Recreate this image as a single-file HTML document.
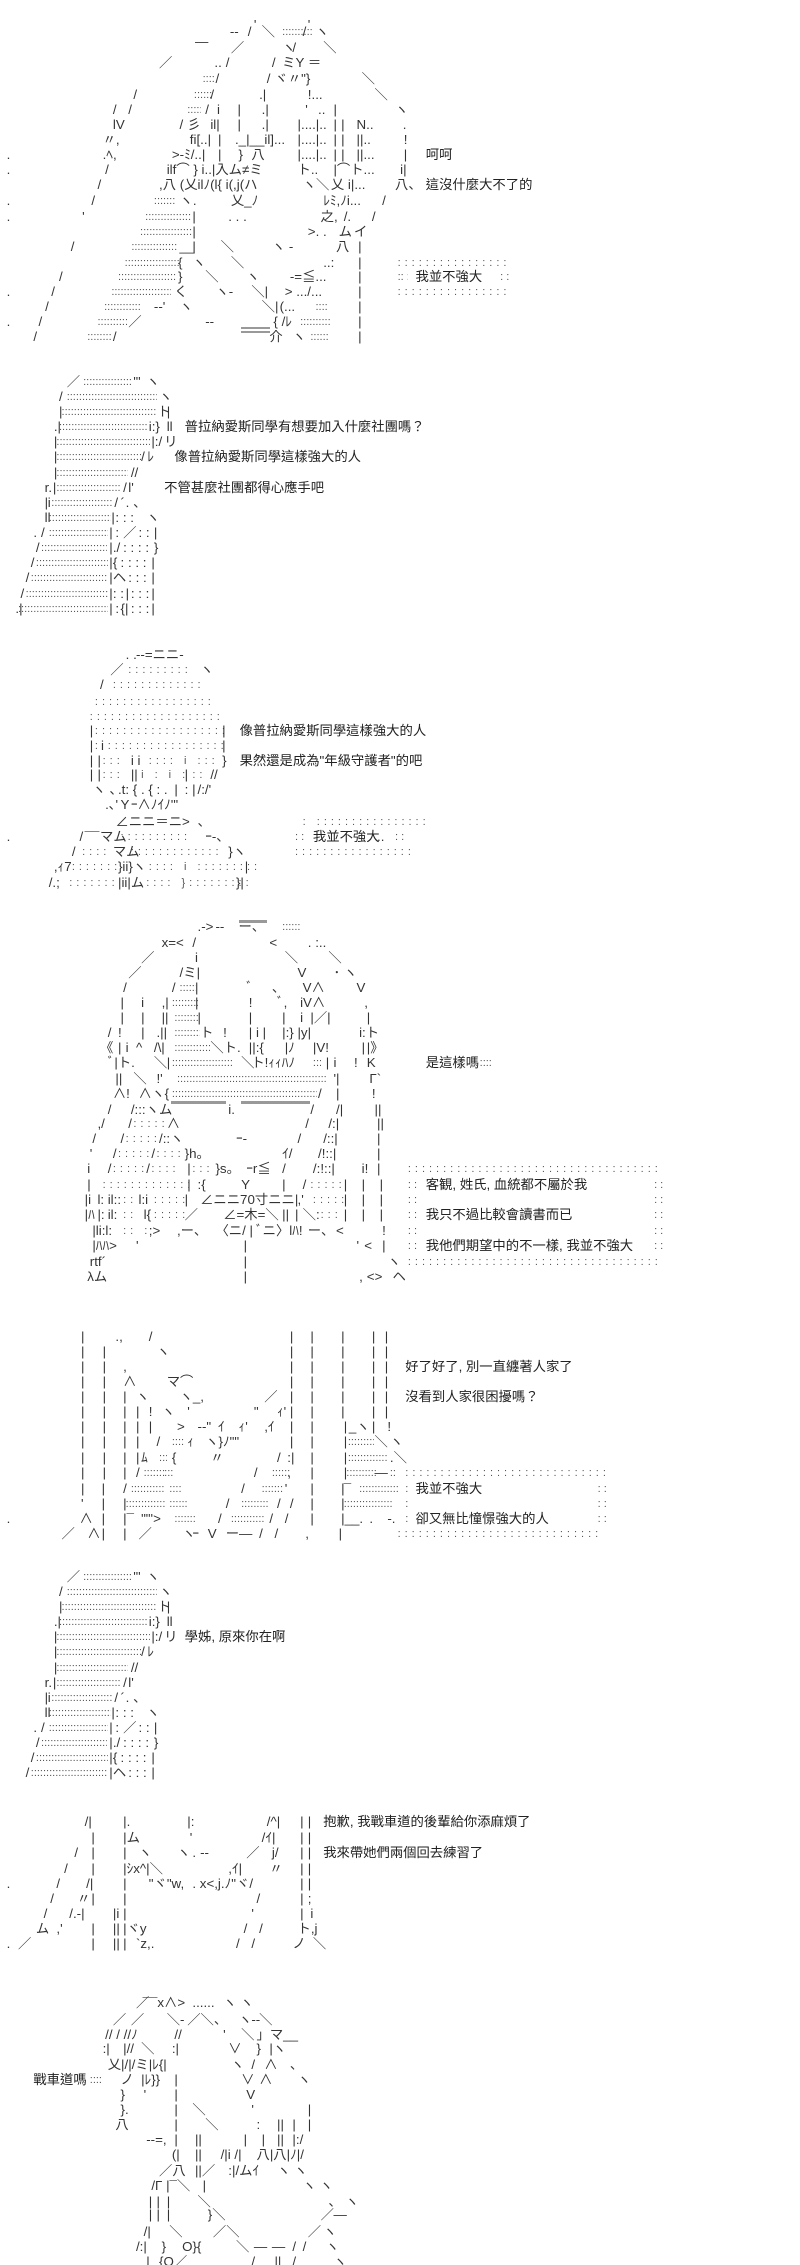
<!DOCTYPE html>
<html><head><meta charset="utf-8"><style>
html,body{margin:0;background:#fff}
#a{position:relative;width:800px;height:2265px;overflow:hidden}
.r{position:absolute;left:0;width:513px;height:16px}
.g{position:absolute;background:#999;height:2px}
i,u,b,em{position:absolute;top:0;font-style:normal;font-weight:normal;text-decoration:none;white-space:pre;line-height:16px;font-family:"Liberation Sans","Noto Sans CJK JP",sans-serif}
i{font-size:13.33px;color:#333}
u{font-size:11px;color:#555;overflow:hidden;height:16px}
b{font-size:11px;color:#555;letter-spacing:4px}
em{font-size:13.33px;color:#222;font-family:"Liberation Sans","Noto Sans CJK TC",sans-serif}
</style></head><body><div id="a">

<div class=g style=left:241px;top:327px;width:29px></div>
<div class=g style=left:241px;top:331px;width:29px></div>
<div class=g style=left:239px;top:920px;width:28px;height:3px></div>
<div class=g style=left:171px;top:1101px;width:55px;height:3px></div>
<div class=g style=left:241px;top:1101px;width:69px;height:3px></div>

<div class=r style=top:17px><i style=left:49.5%>'</i><i style=left:60%>'</i></div>
<div class=r style=top:24px><i style=left:44.8%>--</i><i style=left:48.3%>/</i><i style=left:51%>＼</i><u style=left:55%;width:30px>::::::::::</u><i style=left:59%>/</i><i style=left:61.5%>ヽ</i></div>
<div class=r style=top:34px><i style=left:38%>—</i></div>
<div class=r style=top:40px><i style=left:45%>／</i><i style=left:55%>ヽ</i><i style=left:57%>/</i><i style=left:63%>＼</i></div>
<div class=r style=top:55px><i style=left:31%>／</i><i style=left:41.8%>..</i><i style=left:44%>/</i><i style=left:53%>/</i><i style=left:55%>ミY ＝</i></div>
<div class=r style=top:71px><u style=left:39.5%;width:13px>::::</u><i style=left:42%>/</i><i style=left:52%>/</i><i style=left:53.5%>ヾ〃"}</i><i style=left:70.5%>＼</i></div>
<div class=r style=top:87px><i style=left:26%>/</i><u style=left:37.8%;width:18px>::::::</u><i style=left:41%>/</i><i style=left:50.5%>.|</i><i style=left:60%>!...</i><i style=left:73%>＼</i></div>
<div class=r style=top:102px><i style=left:22%>/</i><i style=left:25%>/</i><u style=left:36.5%;width:14px>:::::</u><i style=left:40%>/</i><i style=left:42.3%>i</i><i style=left:46.3%>|</i><i style=left:51%>.|</i><i style=left:59.5%>'</i><i style=left:62%>..</i><i style=left:65%>|</i><i style=left:77%>ヽ</i></div>
<div class=r style=top:117px><i style=left:22%>lV</i><i style=left:35%>/</i><i style=left:36.5%>彡</i><i style=left:41%>il|</i><i style=left:46.3%>|</i><i style=left:51%>.|</i><i style=left:58%>|....|..</i><i style=left:65%>|</i><i style=left:66.5%>|</i><i style=left:69.5%>N..</i><i style=left:78.5%>.</i></div>
<div class=r style=top:132px><i style=left:20%>〃,</i><i style=left:37%>fi[..|</i><i style=left:42.5%>|</i><i style=left:45.8%>._|__il]...</i><i style=left:58%>|....|..</i><i style=left:65%>|</i><i style=left:66.5%>|</i><i style=left:69.5%>||..</i><i style=left:78.7%>!</i></div>
<div class=r style=top:147px><i style=left:1.3%>.</i><i style=left:20%>.ﾍ,</i><i style=left:33.5%>&gt;-ﾐ/..|</i><i style=left:42.5%>|</i><i style=left:46.5%>}</i><i style=left:49%>八</i><i style=left:58%>|....|..</i><i style=left:65%>|</i><i style=left:66.5%>|</i><i style=left:69.5%>||...</i><i style=left:78.7%>|</i><em style=left:83%>呵呵</em></div>
<div class=r style=top:162px><i style=left:1.3%>.</i><i style=left:20.5%>/</i><i style=left:32.5%>ilf⌒ } i..|入ム≠ミ</i><i style=left:58%>ト..</i><i style=left:65%>|⌒ト...</i><i style=left:78%>i|</i></div>
<div class=r style=top:177px><i style=left:19%>/</i><i style=left:31%>,八 (乂ilﾉ(l{ i(,j(ハ</i><i style=left:59%>ヽ＼</i><i style=left:64.5%>乂 i|...</i><i style=left:77%>八、</i><em style=left:83%>這沒什麼大不了的</em></div>
<div class=r style=top:193px><i style=left:1.3%>.</i><i style=left:17.8%>/</i><u style=left:30%;width:21px>:::::::</u><i style=left:35%>ヽ.</i><i style=left:45%>乂_ﾉ</i><i style=left:63%>ﾚﾐ,ﾉi...</i><i style=left:74.5%>/</i></div>
<div class=r style=top:209px><i style=left:1.3%>.</i><i style=left:16%>'</i><u style=left:28.3%;width:47px>::::::::::::::::</u><i style=left:37.5%>|</i><i style=left:44.5%>. . .</i><i style=left:62.5%>之,</i><i style=left:67%>/.</i><i style=left:72.5%>/</i></div>
<div class=r style=top:224px><u style=left:27.3%;width:52px>:::::::::::::::::</u><i style=left:37.5%>|</i><i style=left:60%>&gt;. .</i><i style=left:66%>ム</i><i style=left:69%>イ</i></div>
<div class=r style=top:239px><i style=left:13.8%>/</i><u style=left:25.6%;width:48px>:::::::::::::::</u><i style=left:35%>__</i><i style=left:37.5%>|</i><i style=left:43%>＼</i><i style=left:53%>ヽ -</i><i style=left:65.5%>八</i><i style=left:69.8%>|</i></div>
<div class=r style=top:255px><u style=left:24.3%;width:55px>::::::::::::::::::</u><i style=left:34.7%>{</i><i style=left:37.5%>ヽ</i><i style=left:45%>＼</i><i style=left:63%>..:</i><i style=left:69.8%>|</i><b style=left:77.5%>::::::::::::::::</b></div>
<div class=r style=top:269px><i style=left:11.5%>/</i><u style=left:23%;width:58px>:::::::::::::::::::</u><i style=left:34.7%>}</i><i style=left:40%>＼</i><i style=left:48%>ヽ</i><i style=left:56.5%>-=≦...</i><i style=left:69.8%>|</i><u style=left:77.5%;width:10px>:: :</u><em style=left:81%>我並不強大</em><u style=left:97.5%;width:10px>: :</u></div>
<div class=r style=top:284px><i style=left:1.3%>.</i><i style=left:10%>/</i><u style=left:21.7%;width:60px>::::::::::::::::::::</u><i style=left:34%>く</i><i style=left:42%>ヽ-</i><i style=left:49%>＼|</i><i style=left:55.5%>&gt; .../...</i><i style=left:69.8%>|</i><b style=left:77.5%>::::::::::::::::</b></div>
<div class=r style=top:299px><i style=left:8.8%>/</i><u style=left:20.3%;width:38px>::::::::::::</u><i style=left:30%>--'</i><i style=left:35%>ヽ</i><i style=left:51%>＼|</i><i style=left:54.5%>(...</i><u style=left:61.5%;width:13px>::::</u><i style=left:69.8%>|</i></div>
<div class=r style=top:314px><i style=left:1.3%>.</i><i style=left:7.5%>/</i><u style=left:19%;width:30px>::::::::::</u><i style=left:25%>／</i><i style=left:40%>--</i><i style=left:53.3%>{ /ﾚ</i><u style=left:58.5%;width:30px>::::::::::</u><i style=left:69.8%>|</i></div>
<div class=r style=top:329px><i style=left:6.5%>/</i><u style=left:17%;width:25px>::::::::</u><i style=left:22%>/</i><i style=left:52.5%>介</i><i style=left:57%>ヽ</i><u style=left:60.5%;width:20px>::::::</u><i style=left:69.8%>|</i></div>

<div class=r style=top:374px><i style=left:13%>／</i><u style=left:16.2%;width:48px>:::::::::::::::::</u><i style=left:26%>"'</i><i style=left:28.5%>ヽ</i></div>
<div class=r style=top:389px><i style=left:11.5%>/</i><u style=left:13%;width:90px>::::::::::::::::::::::::::::::::</u><i style=left:31%>ヽ</i></div>
<div class=r style=top:404px><i style=left:11.5%>|</i><u style=left:12%;width:95px>::::::::::::::::::::::::::::::::::</u><i style=left:30.7%>ト</i><i style=left:32.5%>|</i></div>
<div class=r style=top:419px><i style=left:10.5%>.|</i><u style=left:11.5%;width:88px>:::::::::::::::::::::::::::::::</u><i style=left:29%>i:}</i><i style=left:32.5%>ll</i><em style=left:36%>普拉納愛斯同學有想要加入什麼社團嗎？</em></div>
<div class=r style=top:434px><i style=left:10.5%>|</i><u style=left:11%;width:94px>:::::::::::::::::::::::::::::::::</u><i style=left:29.5%>|:/</i><i style=left:32%>リ</i></div>
<div class=r style=top:449px><i style=left:10.5%>|</i><u style=left:11%;width:85px>::::::::::::::::::::::::::::::</u><i style=left:27.5%>/</i><i style=left:28.7%>ﾚ</i><em style=left:34%>像普拉納愛斯同學這樣強大的人</em></div>
<div class=r style=top:465px><i style=left:10.5%>|</i><u style=left:11%;width:72px>::::::::::::::::::::::::::</u><i style=left:25.5%>//</i></div>
<div class=r style=top:480px><i style=left:8.7%>r.</i><i style=left:10.3%>|</i><u style=left:11%;width:65px>:::::::::::::::::::::::</u><i style=left:24%>/</i><i style=left:25%>l'</i><em style=left:32%>不管甚麼社團都得心應手吧</em></div>
<div class=r style=top:495px><i style=left:8.7%>|</i><i style=left:9.3%>i</i><u style=left:10%;width:61px>::::::::::::::::::::::</u><i style=left:22.3%>/</i><i style=left:23.5%>´</i><i style=left:24.5%>. 、</i></div>
<div class=r style=top:510px><i style=left:8.7%>ll</i><u style=left:9.5%;width:62px>::::::::::::::::::::::</u><i style=left:21.7%>|</i><i style=left:22.5%>: : :</i><i style=left:28.5%>ヽ</i></div>
<div class=r style=top:525px><i style=left:6.5%>.</i><i style=left:8%>/</i><u style=left:9.5%;width:59px>:::::::::::::::::::::</u><i style=left:21.3%>|</i><i style=left:22.5%>:</i><i style=left:24%>／</i><i style=left:27%>: :</i><i style=left:30%>|</i></div>
<div class=r style=top:540px><i style=left:7%>/</i><u style=left:8%;width:66px>:::::::::::::::::::::::</u><i style=left:21.3%>|</i><i style=left:22%>./</i><i style=left:24%>: : : :</i><i style=left:30%>}</i></div>
<div class=r style=top:555px><i style=left:6%>/</i><u style=left:7%;width:72px>:::::::::::::::::::::::::</u><i style=left:21.3%>|</i><i style=left:22%>{</i><i style=left:23.5%>: : : :</i><i style=left:29.5%>|</i></div>
<div class=r style=top:570px><i style=left:5%>/</i><u style=left:6%;width:77px>:::::::::::::::::::::::::::</u><i style=left:21.3%>|</i><i style=left:22%>ヘ</i><i style=left:25%>: : :</i><i style=left:29.5%>|</i></div>
<div class=r style=top:586px><i style=left:4%>/</i><u style=left:5%;width:82px>:::::::::::::::::::::::::::::</u><i style=left:21.3%>|</i><i style=left:22%>: :</i><i style=left:24.5%>|</i><i style=left:25.5%>: : :</i><i style=left:29.5%>|</i></div>
<div class=r style=top:601px><i style=left:3%>.|</i><u style=left:3.5%;width:90px>:::::::::::::::::::::::::::::::</u><i style=left:21.3%>|</i><i style=left:22.5%>:</i><i style=left:23.5%>{|</i><i style=left:25.5%>: : :</i><i style=left:29.5%>|</i></div>

<div class=r style=top:647px><i style=left:24.5%>. .</i><i style=left:26.5%>--=ニニ-</i></div>
<div class=r style=top:662px><i style=left:21.5%>／</i><b style=left:25%>:::::::::</b><i style=left:39%>ヽ</i></div>
<div class=r style=top:677px><i style=left:19.5%>/</i><b style=left:22%>:::::::::::::</b></div>
<div class=r style=top:694px><b style=left:18.5%>:::::::::::::::::</b></div>
<div class=r style=top:709px><b style=left:17.5%>:::::::::::::::::::</b></div>
<div class=r style=top:723px><i style=left:17.5%>|</i><b style=left:18.5%>:::::::::::::::::::</b><i style=left:43.3%>|</i><em style=left:46.7%>像普拉納愛斯同學這樣強大的人</em></div>
<div class=r style=top:738px><i style=left:17.5%>|</i><b style=left:18.5%>: </b><i style=left:19.7%>i</i><b style=left:21%>:::::::::::::::::</b><i style=left:43.3%>|</i></div>
<div class=r style=top:753px><i style=left:17.5%>|</i><i style=left:19%>|</i><b style=left:20%>:::</b><i style=left:25.5%>i i</i><b style=left:29%>:::: i :::</b><i style=left:43.3%>}</i><em style=left:46.7%>果然還是成為"年級守護者"的吧</em></div>
<div class=r style=top:767px><i style=left:17.5%>|</i><i style=left:19%>|</i><b style=left:20%>:::</b><i style=left:25.5%>||</i><b style=left:27.5%>i : i :</b><i style=left:36%>|</i><b style=left:37.5%>::</b><i style=left:41%>//</i></div>
<div class=r style=top:782px><i style=left:18%>ヽ 、</i><i style=left:23%>.t: { . { : .</i><i style=left:34%>|</i><i style=left:36%>: |</i><i style=left:38.5%>/:/'</i></div>
<div class=r style=top:797px><i style=left:20.5%>.､'</i><i style=left:23.5%>Y</i><i style=left:25.5%>ｰ∧ﾉｲﾉ'"</i></div>
<div class=r style=top:814px><i style=left:22.5%>∠ニニ＝ニ&gt;</i><i style=left:38.5%>、</i><b style=left:59%>: ::::::::::::::::</b></div>
<div class=r style=top:829px><i style=left:1.3%>.</i><i style=left:15.5%>/</i><i style=left:16.5%>¯¯</i><i style=left:19.5%>マム</i><b style=left:23.5%>::::::::::</b><i style=left:40%>ｰ-、</i><u style=left:57.5%;width:10px>: :</u><em style=left:61%>我並不強大</em><i style=left:73.5%>..</i><u style=left:77%;width:10px>: :</u></div>
<div class=r style=top:844px><i style=left:14%>/</i><b style=left:16%>::::</b><i style=left:22%>マム</i><b style=left:25.5%>:::::::::::::</b><i style=left:44.5%>}ヽ</i><b style=left:57.5%>:::::::::::::::::</b></div>
<div class=r style=top:859px><i style=left:10.5%>,ｨ7</i><b style=left:14%>:::::::</b><i style=left:23%>}ii}ヽ</i><b style=left:29%>:::: i :::::::::</b><i style=left:47.7%>|</i></div>
<div class=r style=top:875px><i style=left:9.5%>/.;</i><b style=left:13.5%>:::::::</b><i style=left:23%>|ii|ム</i><b style=left:28.5%>:::: }:::::::::</b><i style=left:46%>}|</i></div>

<div class=r style=top:919px><i style=left:38.5%>.-&gt;</i><i style=left:42%>--</i><i style=left:46.5%>ー、</i><u style=left:55%;width:18px>::::::</u></div>
<div class=r style=top:935px><i style=left:31.5%>x=&lt;</i><i style=left:37.5%>/</i><i style=left:52.5%>&lt;</i><i style=left:60%>. :..</i></div>
<div class=r style=top:950px><i style=left:27.5%>／</i><i style=left:38%>i</i><i style=left:55.5%>＼</i><i style=left:64%>＼</i></div>
<div class=r style=top:965px><i style=left:25%>／</i><i style=left:35%>/ミ|</i><i style=left:58%>V</i><i style=left:65%>･ ヽ</i></div>
<div class=r style=top:980px><i style=left:24%>/</i><i style=left:33.5%>/</i><u style=left:35%;width:16px>::::::</u><i style=left:38%>|</i><i style=left:48%>ﾞ</i><i style=left:53%>、</i><i style=left:59%>V∧</i><i style=left:69.5%>V</i></div>
<div class=r style=top:995px><i style=left:23.5%>|</i><i style=left:27.5%>i</i><i style=left:31.5%>,|</i><u style=left:33.5%;width:26px>:::::::::</u><i style=left:38%>|</i><i style=left:48.5%>!</i><i style=left:54%>ﾞ,</i><i style=left:58.5%>iV∧</i><i style=left:71%>,</i></div>
<div class=r style=top:1010px><i style=left:23.5%>|</i><i style=left:27.5%>|</i><i style=left:31.5%>||</i><u style=left:34%;width:24px>::::::::</u><i style=left:38.5%>|</i><i style=left:48.5%>|</i><i style=left:55%>|</i><i style=left:58.5%>i</i><i style=left:60.5%>|／|</i><i style=left:71.5%>|</i></div>
<div class=r style=top:1025px><i style=left:21%>/</i><i style=left:23%>!</i><i style=left:27.5%>|</i><i style=left:30.5%>.||</i><u style=left:34%;width:26px>:::::::::</u><i style=left:39%>ト</i><i style=left:43.5%>!</i><i style=left:48.5%>| i |</i><i style=left:55%>|:} |y|</i><i style=left:70%>i:ト</i></div>
<div class=r style=top:1040px><i style=left:19.5%>《</i><i style=left:23%>|</i><i style=left:24.5%>i</i><i style=left:26.5%>^</i><i style=left:30%>/\|</i><u style=left:34%;width:36px>::::::::::::</u><i style=left:41%>＼ト.</i><i style=left:48.5%>||:{</i><i style=left:55.5%>|ﾉ</i><i style=left:61%>|V!</i><i style=left:70.5%>|</i><i style=left:71.5%>|》</i></div>
<div class=r style=top:1055px><i style=left:21%>ﾞ|ト.</i><i style=left:30%>＼</i><i style=left:32.5%>|</i><u style=left:33.5%;width:62px>::::::::::::::::::::::</u><i style=left:47%>＼</i><i style=left:49%>ト!ｨｨﾊﾉ</i><u style=left:61%;width:8px>:::</u><i style=left:63.5%>|</i><i style=left:65%>i</i><i style=left:69%>!</i><i style=left:71.5%>K</i><em style=left:83%>是這樣嗎</em><u style=left:93.5%;width:14px>::::</u></div>
<div class=r style=top:1071px><i style=left:22.5%>||</i><i style=left:26%>＼</i><i style=left:30.5%>!'</i><u style=left:34.5%;width:150px>:::::::::::::::::::::::::::::::::::::::::::::::::::::</u><i style=left:65%>'</i><i style=left:65.5%>|</i><i style=left:72%>Γ`</i></div>
<div class=r style=top:1086px><i style=left:22%>∧!</i><i style=left:27%>∧</i><i style=left:29.5%>ヽ{</i><u style=left:33.5%;width:145px>::::::::::::::::::::::::::::::::::::::::::::::::::::</u><i style=left:62%>/</i><i style=left:65.5%>|</i><i style=left:72.5%>!</i></div>
<div class=r style=top:1102px><i style=left:21%>/</i><i style=left:25.5%>/:::ヽ</i><i style=left:31%>ム</i><i style=left:44.5%>i.</i><i style=left:60.5%>/</i><i style=left:65.5%>/|</i><i style=left:73%>||</i></div>
<div class=r style=top:1116px><i style=left:19%>,/</i><i style=left:25%>/</i><b style=left:26%>:::::</b><i style=left:32.5%>∧</i><i style=left:59.5%>/</i><i style=left:64%>/:|</i><i style=left:73.5%>||</i></div>
<div class=r style=top:1131px><i style=left:18%>/</i><i style=left:23.5%>/</i><b style=left:24.5%>:::::</b><i style=left:31%>/::ヽ</i><i style=left:46%>ｰ-</i><i style=left:58%>/</i><i style=left:63%>/::|</i><i style=left:73.5%>|</i></div>
<div class=r style=top:1146px><i style=left:17.5%>'</i><i style=left:22%>/</i><b style=left:23%>:::::</b><i style=left:29.5%>/</i><b style=left:30.5%>::::</b><i style=left:36%>}h。</i><i style=left:55%>ｲ/</i><i style=left:62%>/!::|</i><i style=left:73.5%>|</i></div>
<div class=r style=top:1161px><i style=left:17%>i</i><i style=left:21%>/</i><b style=left:22%>:::::</b><i style=left:28.5%>/</i><b style=left:29.5%>::::</b><i style=left:36.5%>|</i><b style=left:37.5%>:::</b><i style=left:42%>}s。</i><i style=left:48%>ｰr≦</i><i style=left:55%>/</i><i style=left:61%>/:!::|</i><i style=left:70.5%>i!</i><i style=left:73.5%>|</i><b style=left:79.5%>::::::::::::::::::::::::::::::::::::</b></div>
<div class=r style=top:1177px><i style=left:17%>|</i><b style=left:20%>:::::::::::::</b><i style=left:36.5%>|</i><i style=left:38.5%>:{</i><i style=left:47%>Y</i><i style=left:55%>|</i><i style=left:59%>/</i><b style=left:60.5%>:::::</b><i style=left:67%>|</i><i style=left:70.5%>|</i><i style=left:74%>|</i><u style=left:79.5%;width:12px>: :</u><em style=left:83%>客観, 姓氏, 血統都不屬於我</em><u style=left:127.5%;width:10px>: :</u></div>
<div class=r style=top:1192px><i style=left:16.5%>|i</i><i style=left:19%>l:</i><i style=left:21%>il::</i><b style=left:24%>::</b><i style=left:27%>l:i</i><b style=left:30%>:::::</b><i style=left:36%>|</i><i style=left:39%>∠ニニ70寸ニニ|</i><i style=left:58%>,'</i><b style=left:61%>:::::</b><i style=left:67%>|</i><i style=left:70.5%>|</i><i style=left:74%>|</i><u style=left:79.5%;width:12px>: :</u><u style=left:127.5%;width:10px>: :</u></div>
<div class=r style=top:1207px><i style=left:16.5%>|ﾊ</i><i style=left:19%>|:</i><i style=left:21%>il:</i><b style=left:24%>::</b><i style=left:28%>l{</i><b style=left:30%>:::::</b><i style=left:36%>／</i><i style=left:43.5%>∠=木=＼</i><i style=left:55%>||</i><i style=left:57.5%>|</i><i style=left:59%>＼:</i><b style=left:62.5%>:::</b><i style=left:67%>|</i><i style=left:70.5%>|</i><i style=left:74%>|</i><u style=left:79.5%;width:12px>: :</u><em style=left:83%>我只不過比較會讀書而已</em><u style=left:127.5%;width:10px>: :</u></div>
<div class=r style=top:1223px><i style=left:18%>|li:l:</i><b style=left:24%>:: :</b><i style=left:29%>;&gt;</i><i style=left:34.5%>,ー、</i><i style=left:42%>〈ニ/ | ﾞニ〉lﾊ!</i><i style=left:60%>ー、</i><i style=left:65.5%>&lt;</i><i style=left:74.5%>!</i><u style=left:79.5%;width:12px>: :</u><u style=left:127.5%;width:10px>: :</u></div>
<div class=r style=top:1238px><i style=left:18%>|ﾊﾊ&gt;</i><i style=left:26.5%>'</i><i style=left:47.5%>|</i><i style=left:69.5%>'</i><i style=left:71%>&lt;</i><i style=left:74.5%>|</i><u style=left:79.5%;width:12px>: :</u><em style=left:83%>我他們期望中的不一樣, 我並不強大</em><u style=left:127.5%;width:10px>: :</u></div>
<div class=r style=top:1254px><i style=left:17.5%>rtf´</i><i style=left:47.5%>|</i><i style=left:75.5%>ヽ</i><b style=left:79.5%>::::::::::::::::::::::::::::::::::::</b></div>
<div class=r style=top:1269px><i style=left:17%>λム</i><i style=left:47.5%>|</i><i style=left:70%>,</i><i style=left:71.5%>&lt;&gt;</i><i style=left:76.5%>ヘ</i></div>

<div class=r style=top:1329px><i style=left:15.8%>|</i><i style=left:22.5%>.,</i><i style=left:29%>/</i><i style=left:56.5%>|</i><i style=left:60.5%>|</i><i style=left:66.5%>|</i><i style=left:72.5%>|</i><i style=left:75%>|</i></div>
<div class=r style=top:1344px><i style=left:15.8%>|</i><i style=left:20%>|</i><i style=left:30.5%>ヽ</i><i style=left:56.5%>|</i><i style=left:60.5%>|</i><i style=left:66.5%>|</i><i style=left:72.5%>|</i><i style=left:75%>|</i></div>
<div class=r style=top:1359px><i style=left:15.8%>|</i><i style=left:20%>|</i><i style=left:24%>,</i><i style=left:56.5%>|</i><i style=left:60.5%>|</i><i style=left:66.5%>|</i><i style=left:72.5%>|</i><i style=left:75%>|</i><em style=left:79%>好了好了, 別一直纏著人家了</em></div>
<div class=r style=top:1374px><i style=left:15.8%>|</i><i style=left:20%>|</i><i style=left:24%>∧</i><i style=left:32.5%>マ⌒</i><i style=left:56.5%>|</i><i style=left:60.5%>|</i><i style=left:66.5%>|</i><i style=left:72.5%>|</i><i style=left:75%>|</i></div>
<div class=r style=top:1389px><i style=left:15.8%>|</i><i style=left:20%>|</i><i style=left:24%>|</i><i style=left:26.5%>ヽ</i><i style=left:35%>ヽ_,</i><i style=left:51.5%>／</i><i style=left:56.5%>|</i><i style=left:60.5%>|</i><i style=left:66.5%>|</i><i style=left:72.5%>|</i><i style=left:75%>|</i><em style=left:79%>沒看到人家很困擾嗎？</em></div>
<div class=r style=top:1404px><i style=left:15.8%>|</i><i style=left:20%>|</i><i style=left:24%>|</i><i style=left:26.5%>|</i><i style=left:29%>!</i><i style=left:31.5%>ヽ</i><i style=left:36.5%>'</i><i style=left:49.5%>"</i><i style=left:54%>ｨ'</i><i style=left:56.5%>|</i><i style=left:60.5%>|</i><i style=left:66.5%>|</i><i style=left:72.5%>|</i><i style=left:75%>|</i></div>
<div class=r style=top:1419px><i style=left:15.8%>|</i><i style=left:20%>|</i><i style=left:24%>|</i><i style=left:26.5%>|</i><i style=left:29%>|</i><i style=left:34.5%>&gt;</i><i style=left:38.5%>--"</i><i style=left:42.5%>ｲ</i><i style=left:46.5%>ｨ'</i><i style=left:51.5%>,ｲ</i><i style=left:56.5%>|</i><i style=left:60.5%>|</i><i style=left:67%>|</i><i style=left:68%>_ヽ</i><i style=left:72.5%>|</i><i style=left:75.5%>!</i></div>
<div class=r style=top:1434px><i style=left:15.8%>|</i><i style=left:20%>|</i><i style=left:24%>|</i><i style=left:26.5%>|</i><i style=left:30.5%>/</i><u style=left:33.5%;width:13px>::::</u><i style=left:36.5%>ｨ</i><i style=left:40%>ヽ}ﾉ""</i><i style=left:56.5%>|</i><i style=left:60.5%>|</i><i style=left:67%>|</i><u style=left:67.8%;width:26px>:::::::::</u><i style=left:73%>＼</i><i style=left:76%>ヽ</i></div>
<div class=r style=top:1450px><i style=left:15.8%>|</i><i style=left:20%>|</i><i style=left:24%>|</i><i style=left:26.5%>|</i><i style=left:27.5%>ﾑ</i><u style=left:31%;width:8px>:::</u><i style=left:33.5%>{</i><i style=left:41%>〃</i><i style=left:54%>/</i><i style=left:56%>:|</i><i style=left:60.5%>|</i><i style=left:67%>|</i><u style=left:67.8%;width:42px>:::::::::::::</u><i style=left:76%>.＼</i></div>
<div class=r style=top:1465px><i style=left:15.8%>|</i><i style=left:20%>|</i><i style=left:24%>|</i><i style=left:26.5%>/</i><u style=left:28%;width:22px>:::::::</u><u style=left:32%;width:10px>:::</u><i style=left:49.5%>/</i><u style=left:53%;width:18px>::::::</u><i style=left:56%>,</i><i style=left:60.5%>|</i><i style=left:67%>|</i><u style=left:67.5%;width:30px>::::::::::</u><i style=left:73%>—</i><u style=left:76%;width:10px>::</u><b style=left:79%>:::::::::::::::::::::::::::::</b></div>
<div class=r style=top:1481px><i style=left:15.8%>|</i><i style=left:19.8%>|</i><i style=left:24%>/</i><u style=left:25.5%;width:38px>:::::::::::</u><u style=left:33%;width:14px>::::</u><i style=left:47%>/</i><u style=left:51%;width:24px>:::::::</u><i style=left:55.5%>'</i><i style=left:60.5%>|</i><i style=left:66.5%>|</i><i style=left:67%>¯</i><u style=left:70%;width:42px>:::::::::::::</u><u style=left:79%;width:6px>:</u><em style=left:81%>我並不強大</em><u style=left:116.5%;width:10px>: :</u></div>
<div class=r style=top:1496px><i style=left:15.8%>'</i><i style=left:19.8%>|</i><i style=left:24%>|</i><u style=left:24.5%;width:46px>:::::::::::::</u><u style=left:33%;width:20px>::::::</u><i style=left:44%>/</i><u style=left:47%;width:32px>:::::::::</u><i style=left:54%>/</i><i style=left:56.5%>/</i><i style=left:60.5%>|</i><i style=left:66.5%>|</i><u style=left:67%;width:58px>::::::::::::::::</u><u style=left:79%;width:6px>:</u><u style=left:116.5%;width:10px>: :</u></div>
<div class=r style=top:1511px><i style=left:1.3%>.</i><i style=left:15.5%>∧</i><i style=left:19.8%>|</i><i style=left:24%>|¯</i><i style=left:27.5%>""'&gt;</i><u style=left:34%;width:24px>:::::::</u><i style=left:42.5%>/</i><u style=left:45%;width:38px>:::::::::::</u><i style=left:52.5%>/</i><i style=left:55.5%>/</i><i style=left:60.5%>|</i><i style=left:66.5%>|__.</i><i style=left:72%>.</i><i style=left:75.5%>-.</i><u style=left:79%;width:6px>:</u><em style=left:81%>卻又無比憧憬強大的人</em><u style=left:116.5%;width:10px>: :</u></div>
<div class=r style=top:1526px><i style=left:12%>／</i><i style=left:17%>∧</i><i style=left:19.8%>|</i><i style=left:24%>|</i><i style=left:27%>／</i><i style=left:35.5%>ヽ</i><i style=left:37.5%>ｰ</i><i style=left:40.5%>V</i><i style=left:44%>ー—</i><i style=left:50.5%>/</i><i style=left:53.5%>/</i><i style=left:59.5%>,</i><i style=left:66%>|</i><b style=left:77.5%>:::::::::::::::::::::::::::::</b></div>

<div class=r style=top:1569px><i style=left:13%>／</i><u style=left:16.2%;width:48px>:::::::::::::::::</u><i style=left:26%>"'</i><i style=left:28.5%>ヽ</i></div>
<div class=r style=top:1584px><i style=left:11.5%>/</i><u style=left:13%;width:90px>::::::::::::::::::::::::::::::::</u><i style=left:31%>ヽ</i></div>
<div class=r style=top:1599px><i style=left:11.5%>|</i><u style=left:12%;width:95px>::::::::::::::::::::::::::::::::::</u><i style=left:30.7%>ト</i><i style=left:32.5%>|</i></div>
<div class=r style=top:1614px><i style=left:10.5%>.|</i><u style=left:11.5%;width:88px>:::::::::::::::::::::::::::::::</u><i style=left:29%>i:}</i><i style=left:32.5%>ll</i></div>
<div class=r style=top:1629px><i style=left:10.5%>|</i><u style=left:11%;width:94px>:::::::::::::::::::::::::::::::::</u><i style=left:29.5%>|:/</i><i style=left:32%>リ</i><em style=left:36%>學姊, 原來你在啊</em></div>
<div class=r style=top:1644px><i style=left:10.5%>|</i><u style=left:11%;width:85px>::::::::::::::::::::::::::::::</u><i style=left:27.5%>/</i><i style=left:28.7%>ﾚ</i></div>
<div class=r style=top:1660px><i style=left:10.5%>|</i><u style=left:11%;width:72px>::::::::::::::::::::::::::</u><i style=left:25.5%>//</i></div>
<div class=r style=top:1675px><i style=left:8.7%>r.</i><i style=left:10.3%>|</i><u style=left:11%;width:65px>:::::::::::::::::::::::</u><i style=left:24%>/</i><i style=left:25%>l'</i></div>
<div class=r style=top:1690px><i style=left:8.7%>|</i><i style=left:9.3%>i</i><u style=left:10%;width:61px>::::::::::::::::::::::</u><i style=left:22.3%>/</i><i style=left:23.5%>´</i><i style=left:24.5%>. 、</i></div>
<div class=r style=top:1705px><i style=left:8.7%>ll</i><u style=left:9.5%;width:62px>::::::::::::::::::::::</u><i style=left:21.7%>|</i><i style=left:22.5%>: : :</i><i style=left:28.5%>ヽ</i></div>
<div class=r style=top:1720px><i style=left:6.5%>.</i><i style=left:8%>/</i><u style=left:9.5%;width:59px>:::::::::::::::::::::</u><i style=left:21.3%>|</i><i style=left:22.5%>:</i><i style=left:24%>／</i><i style=left:27%>: :</i><i style=left:30%>|</i></div>
<div class=r style=top:1735px><i style=left:7%>/</i><u style=left:8%;width:66px>:::::::::::::::::::::::</u><i style=left:21.3%>|</i><i style=left:22%>./</i><i style=left:24%>: : : :</i><i style=left:30%>}</i></div>
<div class=r style=top:1750px><i style=left:6%>/</i><u style=left:7%;width:72px>:::::::::::::::::::::::::</u><i style=left:21.3%>|</i><i style=left:22%>{</i><i style=left:23.5%>: : : :</i><i style=left:29.5%>|</i></div>
<div class=r style=top:1765px><i style=left:5%>/</i><u style=left:6%;width:77px>:::::::::::::::::::::::::::</u><i style=left:21.3%>|</i><i style=left:22%>ヘ</i><i style=left:25%>: : :</i><i style=left:29.5%>|</i></div>

<div class=r style=top:1814px><i style=left:16.5%>/|</i><i style=left:24%>|.</i><i style=left:36.5%>|:</i><i style=left:52%>/^|</i><i style=left:58.5%>|</i><i style=left:60%>|</i><em style=left:63%>抱歉, 我戰車道的後輩給你添麻煩了</em></div>
<div class=r style=top:1830px><i style=left:17.8%>|</i><i style=left:24%>|ム</i><i style=left:37%>'</i><i style=left:51%>/ｲ|</i><i style=left:58.5%>|</i><i style=left:60%>|</i></div>
<div class=r style=top:1845px><i style=left:14.5%>/</i><i style=left:17.8%>|</i><i style=left:24%>|</i><i style=left:27%>ヽ</i><i style=left:34.5%>ヽ</i><i style=left:37.5%>.</i><i style=left:39%>--</i><i style=left:48%>／</i><i style=left:53%>j/</i><i style=left:58.5%>|</i><i style=left:60%>|</i><em style=left:63%>我來帶她們兩個回去練習了</em></div>
<div class=r style=top:1861px><i style=left:12.5%>/</i><i style=left:17.8%>|</i><i style=left:24%>|ｼx^|＼</i><i style=left:44.5%>,ｲ|</i><i style=left:52.5%>〃</i><i style=left:58.5%>|</i><i style=left:60%>|</i></div>
<div class=r style=top:1876px><i style=left:1.3%>.</i><i style=left:11%>/</i><i style=left:16.8%>/|</i><i style=left:24%>|</i><i style=left:29%>"ヾ"w,</i><i style=left:37.5%>. x&lt;,j.ﾉ"ヾ/</i><i style=left:58.5%>|</i><i style=left:60%>|</i></div>
<div class=r style=top:1891px><i style=left:9.8%>/</i><i style=left:15%>〃</i><i style=left:17.8%>|</i><i style=left:24%>|</i><i style=left:50%>/</i><i style=left:58.5%>|</i><i style=left:60%>;</i></div>
<div class=r style=top:1906px><i style=left:8.5%>/</i><i style=left:13.5%>/.-|</i><i style=left:22%>|i</i><i style=left:24%>|</i><i style=left:49%>'</i><i style=left:58.5%>|</i><i style=left:60.5%>i</i></div>
<div class=r style=top:1921px><i style=left:7%>ム</i><i style=left:11%>,'</i><i style=left:17.8%>|</i><i style=left:22%>||</i><i style=left:24%>|ヾy</i><i style=left:47.5%>/</i><i style=left:50.5%>/</i><i style=left:58%>ト,j</i></div>
<div class=r style=top:1936px><i style=left:1.3%>.</i><i style=left:3.5%>／</i><i style=left:17.8%>|</i><i style=left:22%>||</i><i style=left:24%>|</i><i style=left:26.5%>`z,.</i><i style=left:46%>/</i><i style=left:49%>/</i><i style=left:57%>ノ</i><i style=left:61%>＼</i></div>

<div class=r style=top:1995px><i style=left:26.5%>／</i><i style=left:27.8%>¯¯x∧&gt;</i><i style=left:37.5%>......</i><i style=left:43.5%>ヽ ヽ</i></div>
<div class=r style=top:2012px><i style=left:22%>／</i><i style=left:25.5%>／</i><i style=left:32.5%>＼-</i><i style=left:36.5%>／＼、</i><i style=left:46.5%>ヽ</i><i style=left:49%>--</i><i style=left:50.5%>＼</i></div>
<div class=r style=top:2027px><i style=left:20.5%>// / //ﾉ</i><i style=left:34%>//</i><i style=left:43.5%>'</i><i style=left:47%>＼</i><i style=left:50%>」マ__</i></div>
<div class=r style=top:2041px><i style=left:20%>:|</i><i style=left:24%>|//</i><i style=left:27.5%>＼</i><i style=left:33.5%>:|</i><i style=left:44.5%>∨</i><i style=left:50%>}</i><i style=left:52.5%>|ヽ</i></div>
<div class=r style=top:2057px><i style=left:21%>乂|/|/ミ|ﾚ{|</i><i style=left:45%>ヽ</i><i style=left:49%>/</i><i style=left:51.5%>∧</i><i style=left:56.5%>、</i></div>
<div class=r style=top:2072px><em style=left:6.5%>戰車道嗎</em><u style=left:17.5%;width:12px>::::</u><i style=left:23.5%>ノ</i><i style=left:27.5%>|ﾚ}}</i><i style=left:34%>|</i><i style=left:47%>∨</i><i style=left:50.5%>∧</i><i style=left:58%>ヽ</i></div>
<div class=r style=top:2087px><i style=left:23.5%>}</i><i style=left:28%>'</i><i style=left:34%>|</i><i style=left:48%>V</i></div>
<div class=r style=top:2102px><i style=left:23.5%>}.</i><i style=left:34%>|</i><i style=left:37.5%>＼</i><i style=left:49%>'</i><i style=left:60%>|</i></div>
<div class=r style=top:2117px><i style=left:22.5%>八</i><i style=left:34%>|</i><i style=left:40%>＼</i><i style=left:50%>:</i><i style=left:54%>||</i><i style=left:57%>|</i><i style=left:60%>|</i></div>
<div class=r style=top:2132px><i style=left:28.5%>--=,</i><i style=left:34%>|</i><i style=left:38%>||</i><i style=left:47.5%>|</i><i style=left:51%>|</i><i style=left:54%>||</i><i style=left:57%>|:/</i></div>
<div class=r style=top:2147px><i style=left:33.5%>(|</i><i style=left:38%>||</i><i style=left:43%>/|i /|</i><i style=left:50%>八|八|ﾉ|/</i></div>
<div class=r style=top:2163px><i style=left:31%>／八</i><i style=left:38%>||／</i><i style=left:44.5%>:|/ムｲ</i><i style=left:54%>ヽ ヽ</i></div>
<div class=r style=top:2178px><i style=left:29.5%>/Γ |¯＼</i><i style=left:39.5%>|</i><i style=left:59%>ヽ ヽ</i></div>
<div class=r style=top:2194px><i style=left:29%>|</i><i style=left:30.5%>|</i><i style=left:32.5%>|</i><i style=left:38.5%>＼</i><i style=left:64%>、 ヽ</i></div>
<div class=r style=top:2207px><i style=left:29%>|</i><i style=left:30.5%>|</i><i style=left:32.5%>|</i><i style=left:40.5%>}＼</i><i style=left:62.5%>／</i><i style=left:65%>—</i></div>
<div class=r style=top:2224px><i style=left:28%>/|</i><i style=left:33%>＼</i><i style=left:41.5%>／＼</i><i style=left:60%>／</i><i style=left:63%>ヽ</i></div>
<div class=r style=top:2239px><i style=left:26.5%>/:|</i><i style=left:31.5%>}</i><i style=left:35.5%>O}{</i><i style=left:46%>＼</i><i style=left:49.5%>—</i><i style=left:53%>—</i><i style=left:57%>/</i><i style=left:59%>/</i><i style=left:63.5%>ヽ</i></div>
<div class=r style=top:2254px><i style=left:28.5%>|</i><i style=left:31%>{O／</i><i style=left:49%>/</i><i style=left:53.5%>||</i><i style=left:57%>/</i><i style=left:65%>ヽ</i></div>

</div></body></html>
